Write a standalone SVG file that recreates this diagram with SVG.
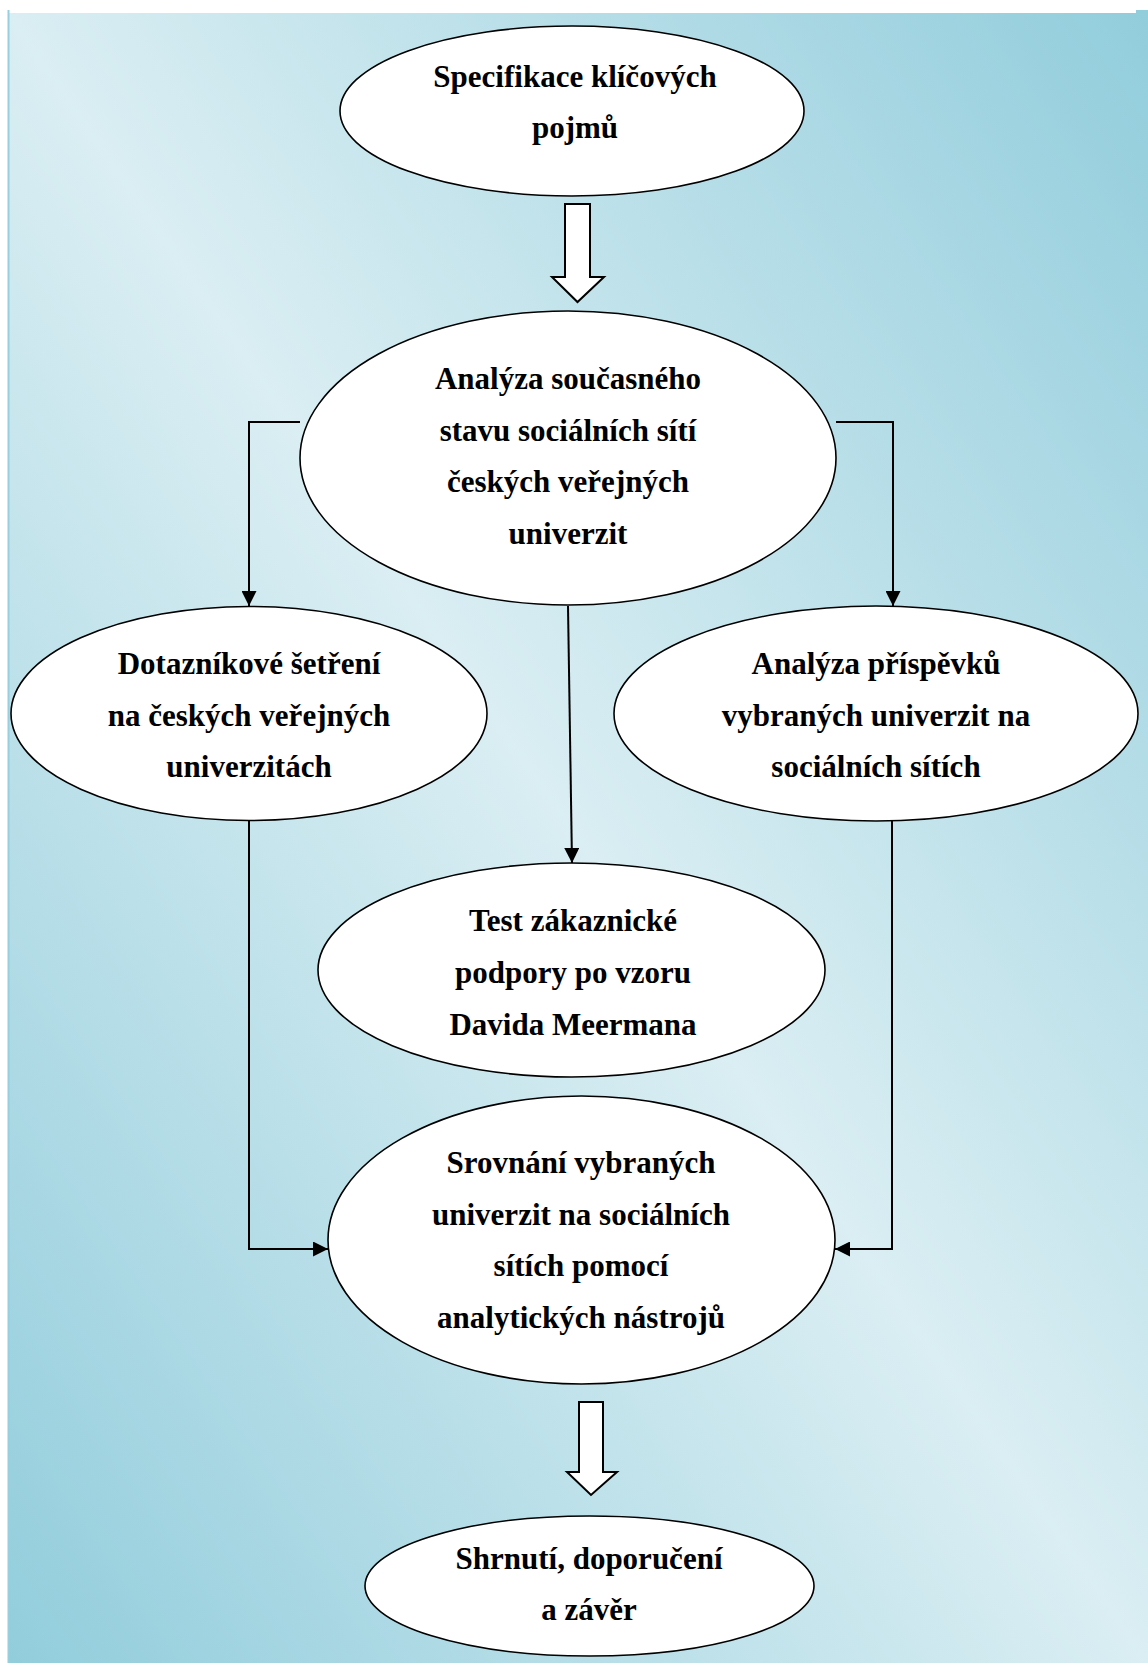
<svg xmlns="http://www.w3.org/2000/svg" width="1148" height="1663" viewBox="0 0 1148 1663">
  <defs>
    <linearGradient id="bg" x1="1" y1="0" x2="0" y2="1">
      <stop offset="0" stop-color="#92cddc"/>
      <stop offset="0.5" stop-color="#daeef3"/>
      <stop offset="1" stop-color="#92cddc"/>
    </linearGradient>
    <marker id="arr" markerUnits="userSpaceOnUse" markerWidth="15" markerHeight="15" refX="15" refY="7.5" orient="auto">
      <path d="M0,0 L15,7.5 L0,15 z" fill="#000"/>
    </marker>
  </defs>
  <style>
    .node ellipse { fill: #ffffff; stroke: #000000; stroke-width: 1.6; }
    .node text { font-family: "Liberation Serif", "Times New Roman", serif; font-weight: bold; font-size: 31px; fill: #000000; text-anchor: middle; }
    .conn { fill: none; stroke: #000000; stroke-width: 2; marker-end: url(#arr); }
    .hollow { fill: #ffffff; stroke: #000000; stroke-width: 2; stroke-linejoin: miter; }
  </style>
  <rect x="0" y="0" width="1148" height="1663" fill="#ffffff"/>
  <rect x="8" y="13" width="1140" height="1650" fill="url(#bg)"/>
  <rect x="1136" y="10" width="12" height="4" fill="#92cddc"/>
  <line x1="8.5" y1="10" x2="8.5" y2="1663" stroke="#96cfdd" stroke-width="2"/>

  <g id="connectors">
    <polygon class="hollow" points="565,204 590,204 590,277 604,277 577.5,302 552,277 565,277"/>
    <polyline class="conn" points="300,422 249,422 249,606"/>
    <polyline class="conn" points="836,422 893,422 893,606"/>
    <line class="conn" x1="568" y1="606" x2="572" y2="863"/>
    <polyline class="conn" points="249,820 249,1249 328,1249"/>
    <polyline class="conn" points="892,821 892,1249 835,1249"/>
    <polygon class="hollow" points="579,1402 603,1402 603,1472 617,1472 591,1495 567,1472 579,1472"/>
  </g>

  <g id="node-specifikace" class="node">
    <ellipse cx="572" cy="111" rx="232" ry="85"/>
    <text x="575" y="87">Specifikace klíčových</text>
    <text x="575" y="138">pojmů</text>
  </g>

  <g id="node-analyza-stavu" class="node">
    <ellipse cx="568" cy="458" rx="268" ry="147"/>
    <text x="568" y="389">Analýza současného</text>
    <text x="568" y="441">stavu sociálních sítí</text>
    <text x="568" y="492">českých veřejných</text>
    <text x="568" y="544">univerzit</text>
  </g>

  <g id="node-dotaznik" class="node">
    <ellipse cx="249" cy="713.5" rx="238" ry="107"/>
    <text x="249" y="674">Dotazníkové šetření</text>
    <text x="249" y="726">na českých veřejných</text>
    <text x="249" y="777">univerzitách</text>
  </g>

  <g id="node-analyza-prispevku" class="node">
    <ellipse cx="876" cy="713.5" rx="262" ry="107.5"/>
    <text x="876" y="674">Analýza příspěvků</text>
    <text x="876" y="726">vybraných univerzit na</text>
    <text x="876" y="777">sociálních sítích</text>
  </g>

  <g id="node-test" class="node">
    <ellipse cx="571.5" cy="970" rx="253.5" ry="107"/>
    <text x="573" y="931">Test zákaznické</text>
    <text x="573" y="983">podpory po vzoru</text>
    <text x="573" y="1035">Davida Meermana</text>
  </g>

  <g id="node-srovnani" class="node">
    <ellipse cx="581.5" cy="1240" rx="253.5" ry="144"/>
    <text x="581" y="1173">Srovnání vybraných</text>
    <text x="581" y="1225">univerzit na sociálních</text>
    <text x="581" y="1276">sítích pomocí</text>
    <text x="581" y="1328">analytických nástrojů</text>
  </g>

  <g id="node-shrnuti" class="node">
    <ellipse cx="589.5" cy="1586" rx="224.5" ry="70"/>
    <text x="589" y="1569">Shrnutí, doporučení</text>
    <text x="589" y="1620">a závěr</text>
  </g>
</svg>
